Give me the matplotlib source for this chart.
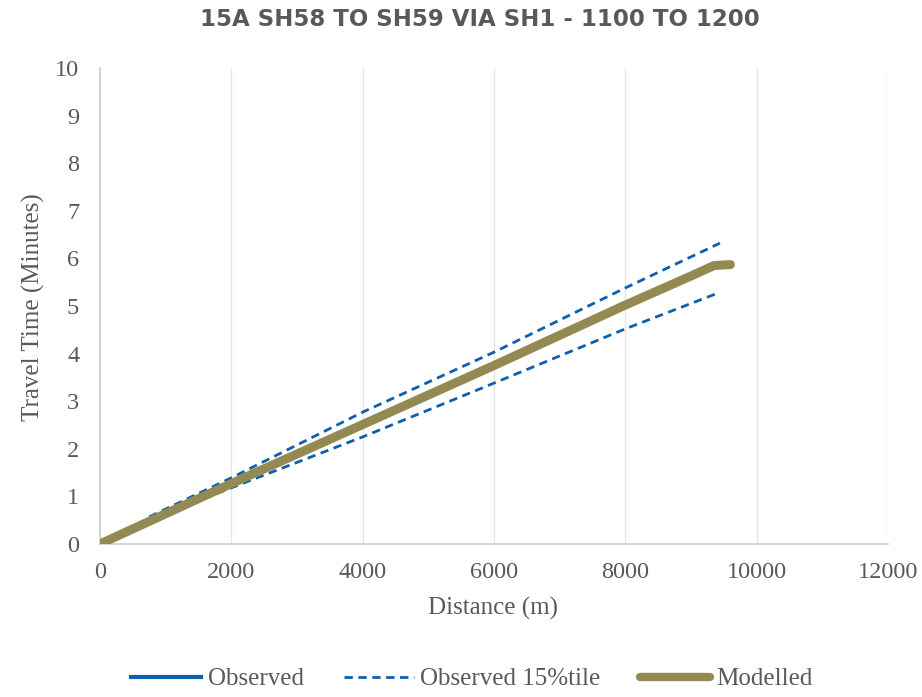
import matplotlib
matplotlib.use("Agg")
import matplotlib.pyplot as plt
from matplotlib.lines import Line2D

title = "15A SH58 TO SH59 VIA SH1 - 1100 TO 1200"

# Observed (median) travel time
obs_x = [0, 2000, 4000, 6000, 8000, 9000, 9400]
obs_y = [0, 1.27, 2.50, 3.74, 5.00, 5.60, 5.82]

# Observed 15%tile bands
upper_x = [750, 2000, 4000, 6000, 8000, 9440]
upper_y = [0.57, 1.39, 2.77, 4.03, 5.38, 6.32]
lower_x = [800, 2000, 4000, 6000, 8000, 9370]
lower_y = [0.52, 1.18, 2.25, 3.38, 4.52, 5.25]

# Modelled
mod_x = [0, 2000, 4000, 6000, 8000, 9000, 9350, 9600]
mod_y = [0, 1.27, 2.51, 3.75, 5.02, 5.63, 5.85, 5.87]

xticks = [0, 2000, 4000, 6000, 8000, 10000, 12000]
yticks = list(range(0, 11))

blue = "#0E5FAE"
olive = "#938953"
gray = "#595959"

plt.rcParams['font.family'] = ['Liberation Serif', 'DejaVu Serif']

fig = plt.figure(figsize=(9.22, 6.97), dpi=100)
ax = fig.add_axes([100/922, 1-544/697, 788/922, 476/697])

ax.plot(obs_x, obs_y, color=blue, lw=2.2, solid_capstyle='round', zorder=3)
ax.plot(upper_x, upper_y, color=blue, lw=2, dashes=(3, 2), zorder=3)
ax.plot(lower_x, lower_y, color=blue, lw=2, dashes=(3, 2), zorder=3)
ax.plot(mod_x, mod_y, color=olive, lw=6.5, solid_capstyle='round', solid_joinstyle='round', zorder=4)

ax.set_xlim(0, 12000)
ax.set_ylim(0, 10)
ax.set_xticks(xticks)
ax.set_yticks(yticks)
ax.tick_params(axis='both', length=0, labelsize=17.5, colors=gray)
ax.tick_params(axis='x', pad=13)
ax.tick_params(axis='y', pad=15)
ax.grid(axis='x', color='#e6e6e6', lw=1)
ax.set_axisbelow(True)
for s in ['top', 'right']:
    ax.spines[s].set_visible(False)
for s in ['left', 'bottom']:
    ax.spines[s].set_color('#d0d0d0')
    ax.spines[s].set_linewidth(1.2)

ax.set_xlabel("Distance (m)", fontsize=18, color=gray, va='center')
ax.set_ylabel("Travel Time (Minutes)", fontsize=18, color=gray, va='center')
ax.xaxis.set_label_coords((493-100)/788, -(608-544)/476)
ax.yaxis.set_label_coords((33-100)/788, (544-307)/476)

fig.text(0.52, 1-19/697, title, ha='center', va='center', fontsize=16.5,
         fontweight='bold', color=gray, family='DejaVu Sans')

handles = [
    Line2D([], [], color=blue, lw=3),
    Line2D([], [], color=blue, lw=2, dashes=(3, 2)),
    Line2D([], [], color=olive, lw=6, solid_capstyle='round'),
]
labels = ["Observed", "Observed 15%tile", "Modelled"]
leg = fig.legend(handles, labels, loc='center', bbox_to_anchor=(0.512, 1-679/697),
                 ncol=3, frameon=False, fontsize=18, handlelength=2.8,
                 handletextpad=0.25, columnspacing=1.6)
for t in leg.get_texts():
    t.set_color(gray)

fig.savefig("out.png", dpi=100)
